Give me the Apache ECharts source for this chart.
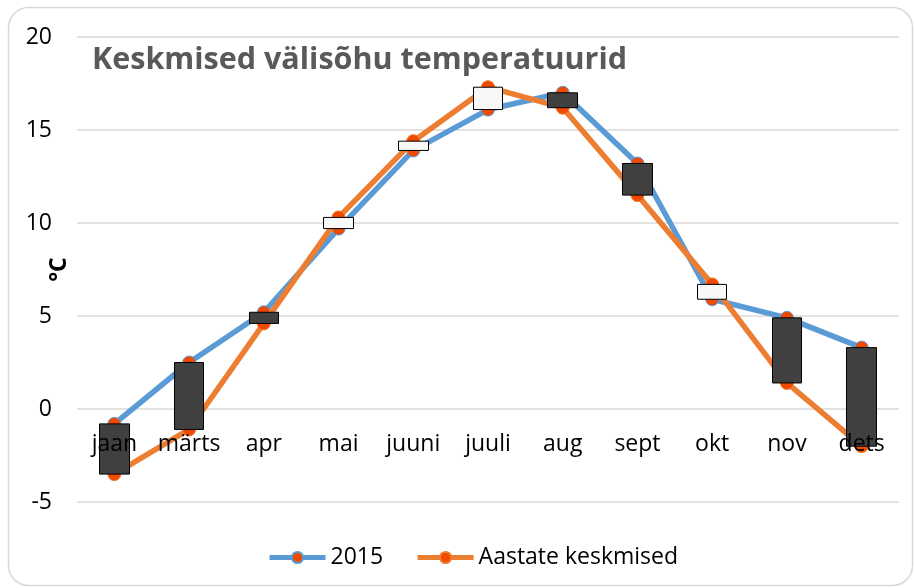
<!DOCTYPE html>
<html>
<head>
<meta charset="utf-8">
<script src="https://cdn.jsdelivr.net/npm/echarts@6/dist/echarts.min.js"></script>
<style>
  html, body { margin: 0; padding: 0; background: #fff; }
  #chart { width: 914px; height: 588px; }
</style>
</head>
<body>
<div id="chart"></div>
<script>
// months (no February in the source sheet)
const months = ['jaan', 'märts', 'apr', 'mai', 'juuni', 'juuli', 'aug', 'sept', 'okt', 'nov', 'dets'];
const temps2015 = [-0.8, 2.5, 5.2, 9.7, 13.9, 16.1, 17.0, 13.2, 5.9, 4.9, 3.3];
const tempsAvg = [-3.5, -1.1, 4.6, 10.3, 14.4, 17.3, 16.2, 11.5, 6.7, 1.4, -2.0];
const yTicks = { min: -5, max: 20, step: 5 };

const font = '"Open Sans", sans-serif';

// up/down bars between first and last series, like Excel does it
const upDown = months.map((m, i) => {
    const a = temps2015[i], b = tempsAvg[i];
    return [a, b, Math.min(a, b), Math.max(a, b)];
});

// grid box, and where the zero line sits in it (labels hang off zero like in Excel)
const gridTop = 37, gridBottom = 86, plotH = 588 - gridTop - gridBottom;
const zeroOffset = -plotH * (0 - yTicks.min) / (yTicks.max - yTicks.min);

const chart = echarts.init(document.getElementById('chart'));

chart.setOption({
    animation: false,
    backgroundColor: '#fff',
    graphic: [{
        type: 'rect',
        shape: { x: 8.5, y: 7.5, width: 904, height: 578, r: 20 },
        style: { fill: 'none', stroke: '#D9D9D9', lineWidth: 1.5 },
        z: -1
    }],
    title: {
        text: 'Keskmised välisõhu temperatuurid',
        left: 87,
        top: 40,
        textStyle: { fontFamily: font, fontSize: 30.5, fontWeight: 'bold', color: '#595959' }
    },
    grid: { left: 77, right: 15, top: gridTop, bottom: gridBottom, outerBoundsMode: 'none' },
    legend: {
        data: ['2015', 'Aastate keskmised'],
        left: 262,
        top: 541,
        itemWidth: 56,
        itemHeight: 14,
        itemGap: 32,
        lineStyle: { width: 5 },
        textStyle: { fontFamily: font, fontSize: 23, color: '#000' }
    },
    xAxis: {
        type: 'category',
        data: months,
        boundaryGap: true,
        offset: zeroOffset,
        z: 10,
        axisLine: { show: false, onZero: false },
        axisTick: { show: false },
        axisLabel: { fontFamily: font, fontSize: 23, color: '#000', margin: 24, interval: 0 }
    },
    yAxis: {
        type: 'value',
        min: yTicks.min,
        max: yTicks.max,
        interval: yTicks.step,
        name: '°C',
        nameLocation: 'middle',
        nameGap: 6,
        nameRotate: 90,
        nameMoveOverlap: false,
        nameTextStyle: { fontFamily: font, fontSize: 23, fontWeight: 'bold', color: '#000' },
        axisLabel: { fontFamily: font, fontSize: 23, color: '#000', margin: 25 },
        splitLine: { lineStyle: { color: '#D9D9D9', width: 1.5 } }
    },
    series: [
        {
            name: '2015',
            type: 'line',
            data: temps2015,
            symbol: 'circle',
            symbolSize: 13,
            lineStyle: { color: '#5B9BD5', width: 5.5 },
            itemStyle: { color: '#F04A00', borderColor: '#5B9BD5', borderWidth: 1 },
            z: 2
        },
        {
            name: 'Aastate keskmised',
            type: 'line',
            data: tempsAvg,
            symbol: 'circle',
            symbolSize: 13,
            lineStyle: { color: '#ED7D31', width: 5.5 },
            itemStyle: { color: '#F04A00', borderColor: '#ED7D31', borderWidth: 1 },
            z: 3
        },
        {
            name: 'updown',
            type: 'candlestick',
            data: upDown,
            barWidth: 30,
            itemStyle: {
                color: '#F8F8F8',
                color0: '#404040',
                borderColor: '#000',
                borderColor0: '#000',
                borderWidth: 1
            },
            z: 5
        }
    ]
});
</script>
</body>
</html>
